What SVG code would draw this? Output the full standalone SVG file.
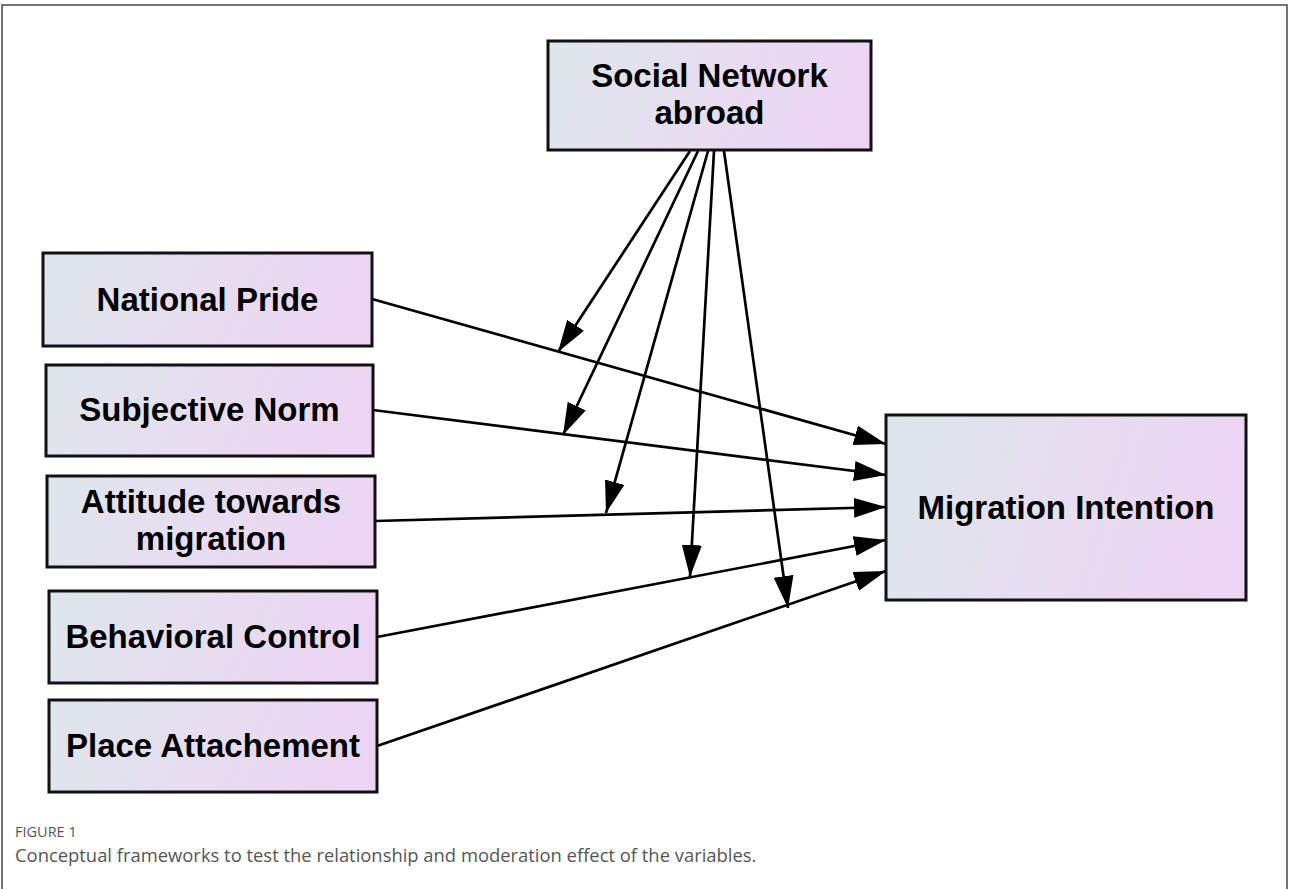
<svg xmlns="http://www.w3.org/2000/svg" width="1290" height="889" viewBox="0 0 1290 889">
  <defs>
    <linearGradient id="boxfill" x1="0" y1="0" x2="1" y2="0.15">
      <stop offset="0" stop-color="#dde6ea"/>
      <stop offset="0.5" stop-color="#e6def0"/>
      <stop offset="1" stop-color="#ecd5f3"/>
    </linearGradient>
    <marker id="arrow" markerUnits="userSpaceOnUse" markerWidth="34" markerHeight="22" refX="32" refY="10" orient="auto">
      <path d="M0,0 L32,10 L0,20 Z" fill="#000"/>
    </marker>
    <style>
      .box { fill: url(#boxfill); stroke: #111; stroke-width: 3; }
      .lbl { font-family: "Liberation Sans", Arial, sans-serif; font-weight: bold; font-size: 33px; fill: #000; text-anchor: middle; }
      .edge { stroke: #000; stroke-width: 2.7; fill: none; marker-end: url(#arrow); }
      .cap { font-family: "Open Sans", "Liberation Sans", sans-serif; fill: #555; }
    </style>
  </defs>
  <rect x="0" y="0" width="1290" height="889" fill="#fff"/>
  <path d="M2,889 V5 H1287 V889" fill="none" stroke="#444" stroke-width="1.5"/>

  <g id="connectors">
    <line class="edge" x1="372" y1="299" x2="886" y2="444"/>
    <line class="edge" x1="373" y1="410" x2="886" y2="475"/>
    <line class="edge" x1="375" y1="521" x2="886" y2="507"/>
    <line class="edge" x1="377" y1="637" x2="886" y2="540"/>
    <line class="edge" x1="377" y1="746" x2="886" y2="571"/>
    <line class="edge" x1="690" y1="151" x2="558" y2="352"/>
    <line class="edge" x1="698" y1="151" x2="563" y2="435"/>
    <line class="edge" x1="708" y1="151" x2="606" y2="513"/>
    <line class="edge" x1="714" y1="151" x2="690" y2="577"/>
    <line class="edge" x1="724" y1="151" x2="788" y2="608"/>
  </g>

  <g id="social-network">
    <rect class="box" x="548" y="41" width="323" height="109"/>
    <text class="lbl" x="709.5" y="87">Social Network</text>
    <text class="lbl" x="709.5" y="124">abroad</text>
  </g>
  <g id="national-pride">
    <rect class="box" x="43" y="253" width="329" height="93"/>
    <text class="lbl" x="207.5" y="311">National Pride</text>
  </g>
  <g id="subjective-norm">
    <rect class="box" x="46" y="365" width="327" height="91"/>
    <text class="lbl" x="209.5" y="421">Subjective Norm</text>
  </g>
  <g id="attitude">
    <rect class="box" x="47" y="476" width="328" height="91"/>
    <text class="lbl" x="211" y="513">Attitude towards</text>
    <text class="lbl" x="211" y="550">migration</text>
  </g>
  <g id="behavioral-control">
    <rect class="box" x="49" y="591" width="328" height="92"/>
    <text class="lbl" x="213" y="648">Behavioral Control</text>
  </g>
  <g id="place-attachement">
    <rect class="box" x="49" y="700" width="328" height="92"/>
    <text class="lbl" x="213" y="757">Place Attachement</text>
  </g>
  <g id="migration-intention">
    <rect class="box" x="886" y="415" width="360" height="185"/>
    <text class="lbl" x="1066" y="519">Migration Intention</text>
  </g>

  <g id="caption">
    <text class="cap" x="15" y="837" font-size="14.5">FIGURE 1</text>
    <text class="cap" x="15" y="862" font-size="18.4">Conceptual frameworks to test the relationship and moderation effect of the variables.</text>
  </g>
</svg>
